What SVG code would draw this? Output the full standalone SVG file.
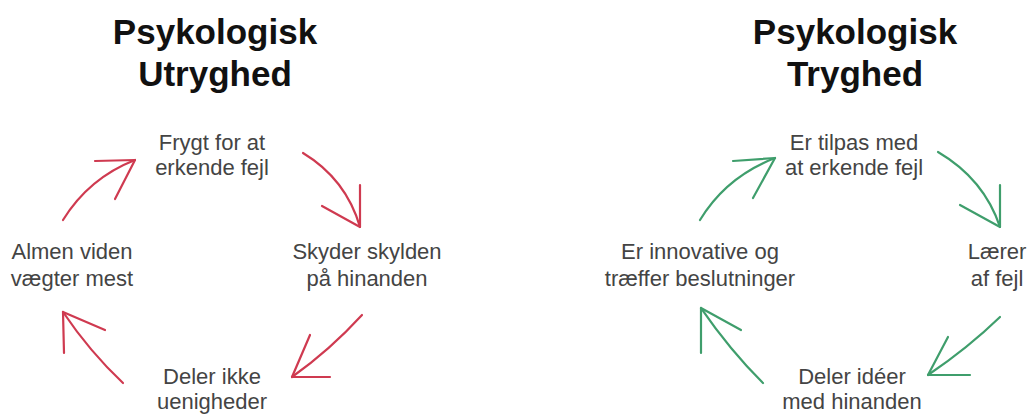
<svg xmlns="http://www.w3.org/2000/svg" width="1028" height="415" viewBox="0 0 1028 415">
<style>
.title{font-family:"Liberation Sans",Arial,sans-serif;font-weight:bold;font-size:35px;fill:#111;text-anchor:middle}
.lbl{font-family:"Liberation Sans",Arial,sans-serif;font-size:22px;fill:#444;text-anchor:middle}
.red{fill:none;stroke:#cf3a50;stroke-width:2.2;stroke-linecap:round;stroke-linejoin:round}
.green{fill:none;stroke:#3f9e6c;stroke-width:2.2;stroke-linecap:round;stroke-linejoin:round}
</style>
<rect width="1028" height="415" fill="#fff"/>
<g id="title-left"><text class="title" x="215" y="44">Psykologisk</text><text class="title" x="215" y="86">Utryghed</text></g>
<g id="title-right"><text class="title" x="855" y="44">Psykologisk</text><text class="title" x="855" y="86">Tryghed</text></g>
<g id="node-l-top"><text class="lbl" x="212" y="150">Frygt for at</text><text class="lbl" x="212" y="175">erkende fejl</text></g>
<g id="node-l-right"><text class="lbl" x="367" y="259">Skyder skylden</text><text class="lbl" x="367" y="286">på hinanden</text></g>
<g id="node-l-bottom"><text class="lbl" x="212" y="384">Deler ikke</text><text class="lbl" x="212" y="409">uenigheder</text></g>
<g id="node-l-left"><text class="lbl" x="72" y="259">Almen viden</text><text class="lbl" x="72" y="286">vægter mest</text></g>
<g id="node-r-top"><text class="lbl" x="854" y="150">Er tilpas med</text><text class="lbl" x="854" y="175">at erkende fejl</text></g>
<g id="node-r-right"><text class="lbl" x="997" y="259">Lærer</text><text class="lbl" x="997" y="286">af fejl</text></g>
<g id="node-r-bottom"><text class="lbl" x="852" y="384">Deler idéer</text><text class="lbl" x="852" y="409">med hinanden</text></g>
<g id="node-r-left"><text class="lbl" x="700" y="259">Er innovative og</text><text class="lbl" x="700" y="286">træffer beslutninger</text></g>
<g id="connectors">
<path class="red" d="M63,220 Q89,178 135,160"/><path class="red" d="M95,161 L135,160 L115,199"/>
<path class="red" d="M303,153 Q346,179 360,227"/><path class="red" d="M360,185 L360,227 L322,206"/>
<path class="red" d="M362,315 Q330,350 292,377"/><path class="red" d="M310,335 L292,377 L330,377"/>
<path class="red" d="M123,383 Q90,352 63,312"/><path class="red" d="M105,330 L63,312 L64,353"/>
<path class="green" d="M700,220 Q726,177 775,158"/><path class="green" d="M733,161 L775,158 L753,198"/>
<path class="green" d="M938,152 Q984,179 1000,227"/><path class="green" d="M1000,185 L1000,227 L960,205"/>
<path class="green" d="M1000,317 Q968,348 928,375"/><path class="green" d="M948,337 L928,375 L970,375"/>
<path class="green" d="M763,383 Q730,350 701,308"/><path class="green" d="M741,330 L701,308 L701,353"/>
</g>
</svg>
